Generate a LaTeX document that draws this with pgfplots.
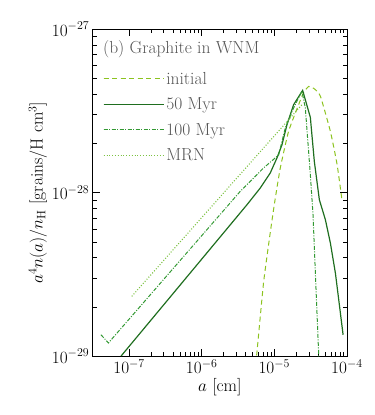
\documentclass[border=0pt]{standalone}
\usepackage{fontspec}
\usepackage{pgfplots}
\pgfplotsset{compat=1.18}
\definecolor{cinit}{HTML}{8CC31F}
\definecolor{cfifty}{HTML}{1F6E1F}
\definecolor{chund}{HTML}{339933}
\definecolor{cmrn}{HTML}{7DC242}
\definecolor{txtgray}{HTML}{555555}
\begin{document}
\begin{tikzpicture}
\useasboundingbox (-92.7bp,-59bp) rectangle (281.3bp,355.7bp);
\begin{axis}[
  scale only axis,
  width=254bp, height=326.7bp,
  xmode=log, ymode=log,
  xmin=3.16e-8, xmax=1e-4,
  ymin=1e-29, ymax=1e-27,
  xtick={1e-7,1e-6,1e-5,1e-4},
  ytick={1e-29,1e-28,1e-27},
  tick align=inside,
  major tick length=7bp, minor tick length=4bp,
  every tick/.style={black, line width=0.5pt},
  axis line style={line width=0.8pt},
  tick label style={font=\fontsize{17.5}{20}\selectfont},
  xlabel={$a$ [cm]},
  ylabel={$a^4 n(a)/n_{\mathrm{H}}$ [grains/H cm$^3$]},
  label style={font=\fontsize{17.5}{20}\selectfont},
  xlabel style={yshift=2bp},
  ylabel style={yshift=-2bp},
  legend cell align=left,
  legend style={at={(0.04,0.875)}, anchor=north west, draw=none, fill=none,
    font=\fontsize{17.5}{20}\selectfont\addfontfeatures{LetterSpace=8}\color{txtgray},
    row sep=8bp, inner sep=0pt},
  legend image code/.code={\draw[#1] (0bp,0bp) -- (49bp,0bp); \path (0bp,0bp) -- (60bp,0bp);},
]
\addplot[cinit, line width=1pt, dash pattern=on 5bp off 3.5bp, smooth, tension=0.3] coordinates {
(5.370e-6,7.943e-30) (5.754e-6,1.047e-29) (7.10e-6,2.80e-29) (8.77e-6,5.65e-29)
(1.007e-5,8.63e-29) (1.208e-5,1.413e-28) (1.570e-5,2.366e-28) (2.158e-5,3.443e-28)
(2.512e-5,4.074e-28) (2.972e-5,4.457e-28) (3.548e-5,4.315e-28) (4.305e-5,3.890e-28)
(5.916e-5,2.366e-28) (7.328e-5,1.479e-28) (8.59e-5,8.83e-29)
};
\addlegendentry{initial}
\addplot[cfifty, line width=1.2pt] coordinates {
(7.76e-8,1.0e-29) (4.188e-6,8.41e-29) (6.38e-6,1.064e-28) (8.77e-6,1.315e-28)
(1.086e-5,1.626e-28) (1.274e-5,1.959e-28) (1.493e-5,2.600e-28) (1.841e-5,3.443e-28)
(2.455e-5,4.217e-28) (3.133e-5,2.884e-28) (3.556e-5,1.549e-28) (4.169e-5,9.04e-29)
(5.047e-5,6.82e-29) (5.916e-5,4.909e-29) (6.93e-5,3.221e-29) (7.71e-5,2.208e-29)
(8.85e-5,1.349e-29)
};
\addlegendentry{50 Myr}
\addplot[chund, line width=1pt, dash pattern=on 4bp off 1.5bp on 1bp off 1.5bp] coordinates {
(4.10e-8,1.349e-29) (5.19e-8,1.202e-29) (3.388e-6,1.016e-28) (7.10e-6,1.413e-28)
(1.148e-5,1.698e-28) (1.413e-5,2.477e-28) (1.841e-5,3.289e-28) (2.399e-5,4.169e-28)
(2.673e-5,3.289e-28) (3.133e-5,1.288e-28) (3.412e-5,7.31e-29) (3.802e-5,2.208e-29)
(4.074e-5,1.047e-29) (4.12e-5,7.94e-30)
};
\addlegendentry{100 Myr}
\addplot[cmrn, line width=1.1pt, dash pattern=on 1bp off 1.8bp] coordinates {
(1.089e-7,2.317e-29) (2.399e-5,3.443e-28)
};
\addlegendentry{MRN}
\node[anchor=west, text=txtgray, font=\fontsize{17.5}{20}\selectfont\addfontfeatures{LetterSpace=10}, inner sep=0pt] at (rel axis cs:0.04,0.94) {(b) Graphite in WNM};
\end{axis}
\end{tikzpicture}
\end{document}
